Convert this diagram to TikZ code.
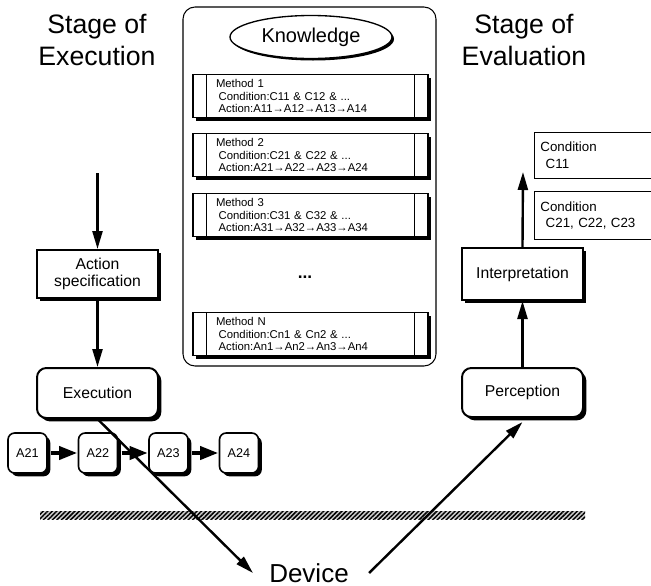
\documentclass[tikz,border=0pt]{standalone}
\usepackage{fontspec}
\setmainfont{Liberation Sans}
\usetikzlibrary{arrows.meta}
\usetikzlibrary{shapes.geometric}
\usetikzlibrary{shadows}
\usetikzlibrary{patterns.meta}

\begin{document}
\begin{tikzpicture}[x=0.75pt,y=-0.75pt,
  shad/.style={drop shadow={shadow xshift=2.5pt,shadow yshift=-2.5pt,fill=black,opacity=1}},
  box/.style={draw,line width=1.5pt,fill=white,minimum width=90.75pt,shad,
    align=center,font=\fontsize{11.8}{13}\selectfont},
  rbox/.style={box,rounded corners=7pt},
  abox/.style={draw,line width=1.2pt,fill=white,rounded corners=5pt,shad,
    minimum width=29.25pt,minimum height=30pt,inner sep=0pt,
    font=\fontsize{9.5}{11}\selectfont},
  meth/.style={draw,line width=0.9pt,fill=white,shad,minimum height=31.5pt,
    inner xsep=17.25pt,text width=141.75pt,align=left,
    font=\fontsize{8.5}{9.5}\selectfont},
  cond/.style={draw,line width=0.6pt,fill=white,anchor=north west,text width=100pt,
    inner xsep=4.5pt,align=left,font=\fontsize{10}{12.5}\selectfont},
  stage/.style={align=center,font=\fontsize{20}{24}\selectfont},
  arr/.style={line width=1.8pt,-{Triangle[length=13.5pt,width=7.5pt]}},
  fat/.style={line width=3.5pt,-{Triangle[length=14pt,width=9.5pt]}}]
  \clip (0,0) rectangle (651,586);

  \node[stage] (se) at (97,40) {Stage of\\Execution};
  \node[stage] (sv) at (524,40) {Stage of\\Evaluation};

  \node[draw,line width=0.8pt,rounded corners=9pt,minimum width=189.75pt,
    minimum height=269.25pt] (kb) at (309.5,186.5) {};
  \node[draw,ellipse,line width=1pt,fill=white,minimum width=121.5pt,minimum height=32.25pt,
    drop shadow={shadow xshift=1.5pt,shadow yshift=-1.5pt,fill=black,opacity=1},
    font=\fontsize{15}{17}\selectfont] (know) at (311,37) {Knowledge};

  \node[meth] (m1) at (310.5,96) {Method 1\\\hspace*{2pt}Condition:C11 \& C12 \& ...\\\hspace*{2pt}Action:A11→A12→A13→A14};
  \node[meth] (m2) at (310.5,155) {Method 2\\\hspace*{2pt}Condition:C21 \& C22 \& ...\\\hspace*{2pt}Action:A21→A22→A23→A24};
  \node[meth] (m3) at (310.5,215) {Method 3\\\hspace*{2pt}Condition:C31 \& C32 \& ...\\\hspace*{2pt}Action:A31→A32→A33→A34};
  \node[meth] (mn) at (310.5,334) {Method N\\\hspace*{2pt}Condition:Cn1 \& Cn2 \& ...\\\hspace*{2pt}Action:An1→An2→An3→An4};
  \foreach \m in {m1,m2,m3,mn}
    \draw[line width=0.9pt] ([xshift=10.5pt]\m.north west) -- ([xshift=10.5pt]\m.south west)
      ([xshift=-10.5pt]\m.north east) -- ([xshift=-10.5pt]\m.south east);
  \node[font=\fontsize{13}{13}\selectfont\bfseries] (dots) at (305,277) {...};

  \fill[black!20] (40,511) rectangle (585,519);
  \fill[pattern={Lines[angle=45,distance=2.4pt,line width=1.1pt]},pattern color=black]
    (40,511) rectangle (585,519);

  \coordinate (in) at (97.5,173);
  \node[box,minimum height=36pt] (spec) at (97.5,274) {Action\\specification};
  \node[rbox,minimum height=37.5pt] (exe) at (97.5,393) {Execution};
  \foreach \i/\x in {1/27.5,2/98,3/168.5,4/239}
    \node[abox] (a\i) at (\x,453) {A2\i};
  \foreach \i/\j in {1/2,2/3,3/4}
    \draw[fat] ([xshift=2.5pt]a\i.east) -- (a\j.west);

  \node[box,minimum height=39pt] (int) at (522.5,274) {Interpretation};
  \node[rbox,minimum height=36.75pt] (per) at (522.5,392.5) {Perception};
  \coordinate (out) at (523,172);
  \node[cond,minimum height=34.5pt] (c1) at (534,132) {Condition\\\hspace*{4pt}C11};
  \node[cond,minimum height=36pt] (c2) at (534,191) {Condition\\\hspace*{4pt}C21, C22, C23};

  \node[font=\fontsize{19.5}{19.5}\selectfont] (dev) at (309,573) {Device};
  \coordinate (dl) at ([xshift=-8.7pt]dev.west);
  \coordinate (dr) at ([xshift=11.7pt]dev.east);

  \draw[arr] (in) -- (spec.north);
  \draw[arr] (spec.south) -- (exe.north);
  \draw[arr] (exe.south) -- (dl);
  \draw[arr] (dr) -- ([yshift=-3pt]per.south);
  \draw[arr] (per.north) -- (int.south);
  \draw[arr] (int.north) -- (out);
\end{tikzpicture}
\end{document}
